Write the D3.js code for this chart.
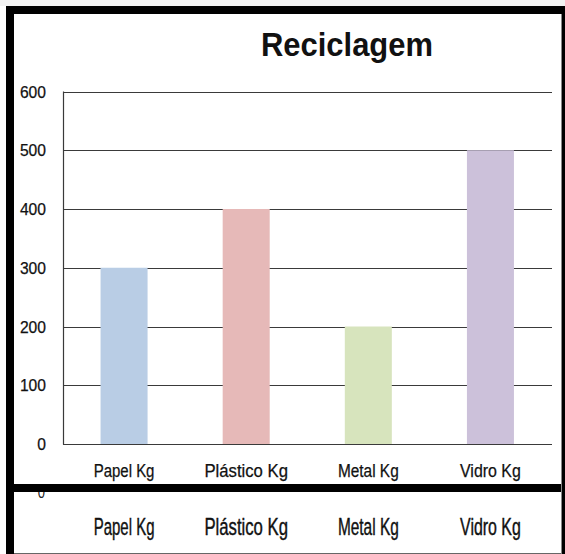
<!DOCTYPE html>
<html>
<head>
<meta charset="utf-8">
<script src="https://cdn.jsdelivr.net/npm/d3@7/dist/d3.min.js"></script>
<style>
html,body{margin:0;padding:0;background:#fff;}
svg{display:block;}
</style>
</head>
<body>
<svg id="chart" width="565" height="554"></svg>
<script>
const categories = ["Papel Kg", "Plástico Kg", "Metal Kg", "Vidro Kg"];
const values = [300, 400, 200, 500];
const colors = ["#b9cde5", "#e6b9b8", "#d7e4bd", "#ccc1da"];
const yTicks = [0, 100, 200, 300, 400, 500, 600];
const title = "Reciclagem";

const svg = d3.select("#chart");
const narrow = "'Liberation Sans Narrow', 'Arial Narrow', 'Liberation Sans', Arial, sans-serif";

svg.append("rect").attr("x", 0).attr("y", 0).attr("width", 565).attr("height", 6).attr("fill", "#f3f3f3");

const x = d3.scaleBand().domain(categories).range([63, 551.5]).paddingInner(0.615).paddingOuter(0.3075);
const y = d3.scaleLinear().domain([0, 600]).range([444, 91.5]);

// gridlines
svg.append("g").selectAll("line").data(yTicks.filter(d => d > 0)).join("line")
  .attr("x1", 63).attr("x2", 552)
  .attr("y1", d => Math.round(y(d)) + 0.5).attr("y2", d => Math.round(y(d)) + 0.5)
  .attr("stroke", "#3a3a3a").attr("stroke-width", 1.2);

// bars
svg.append("g").selectAll("rect").data(values).join("rect")
  .attr("x", (d, i) => x(categories[i]))
  .attr("width", x.bandwidth())
  .attr("y", d => y(d))
  .attr("height", d => y(0) - y(d))
  .attr("fill", (d, i) => colors[i]);

// axis lines
svg.append("line").attr("x1", 63.5).attr("x2", 63.5).attr("y1", y(600)).attr("y2", y(0) + 0.5)
  .attr("stroke", "#3a3a3a").attr("stroke-width", 1.2);
svg.append("line").attr("x1", 63).attr("x2", 552).attr("y1", Math.round(y(0)) + 0.5).attr("y2", Math.round(y(0)) + 0.5)
  .attr("stroke", "#3a3a3a").attr("stroke-width", 1.2);

// y tick labels
svg.append("g").selectAll("text").data(yTicks).join("text")
  .attr("x", 46).attr("y", d => y(d) + 6)
  .attr("text-anchor", "end")
  .attr("font-family", narrow).attr("font-size", 17).attr("fill", "#111")
  .attr("stroke", "#111").attr("stroke-width", 0.25)
  .attr("textLength", d => String(d).length * 8.7).attr("lengthAdjust", "spacingAndGlyphs")
  .text(d => d);

// category labels (upper)
svg.append("g").selectAll("text").data(categories).join("text")
  .attr("x", d => x(d) + x.bandwidth() / 2).attr("y", 477)
  .attr("text-anchor", "middle")
  .attr("font-family", narrow).attr("font-size", 17.5).attr("fill", "#111")
  .attr("stroke", "#111").attr("stroke-width", 0.25)
  .attr("textLength", d => d.length * 7.6).attr("lengthAdjust", "spacingAndGlyphs")
  .text(d => d);

// lower strip: stretched duplicate labels
const lower = svg.append("g");
lower.selectAll("text.cat").data(categories).join("text")
  .attr("class", "cat")
  .attr("transform", d => `translate(${x(d) + x.bandwidth() / 2},535) scale(1,1.4)`)
  .attr("text-anchor", "middle")
  .attr("font-family", narrow).attr("font-size", 17.5).attr("fill", "#111")
  .attr("stroke", "#111").attr("stroke-width", 0.3)
  .attr("textLength", d => d.length * 7.6).attr("lengthAdjust", "spacingAndGlyphs")
  .text(d => d);
lower.append("text")
  .attr("transform", "translate(45,498) scale(1,1.3)")
  .attr("text-anchor", "end")
  .attr("font-family", narrow).attr("font-size", 13).attr("fill", "#222")
  .text(yTicks[0]);

// title
svg.append("text").attr("x", 261).attr("y", 56)
  .attr("font-family", "'Liberation Sans', Arial, sans-serif").attr("font-weight", "bold")
  .attr("font-size", 33).attr("fill", "#111")
  .attr("textLength", 172).attr("lengthAdjust", "spacingAndGlyphs")
  .text(title);

// frame
const frame = svg.append("g").attr("fill", "#000");
frame.append("rect").attr("x", 6).attr("y", 6).attr("width", 559).attr("height", 8);
frame.append("rect").attr("x", 6).attr("y", 6).attr("width", 8).attr("height", 548);
frame.append("rect").attr("x", 562).attr("y", 6).attr("width", 3).attr("height", 548);
frame.append("rect").attr("x", 6).attr("y", 484).attr("width", 559).attr("height", 8);
svg.append("line").attr("x1", 14).attr("x2", 562).attr("y1", 553.5).attr("y2", 553.5).attr("stroke", "#666");
svg.append("line").attr("x1", 561.5).attr("x2", 561.5).attr("y1", 14).attr("y2", 554).attr("stroke", "#888");
</script>
</body>
</html>
